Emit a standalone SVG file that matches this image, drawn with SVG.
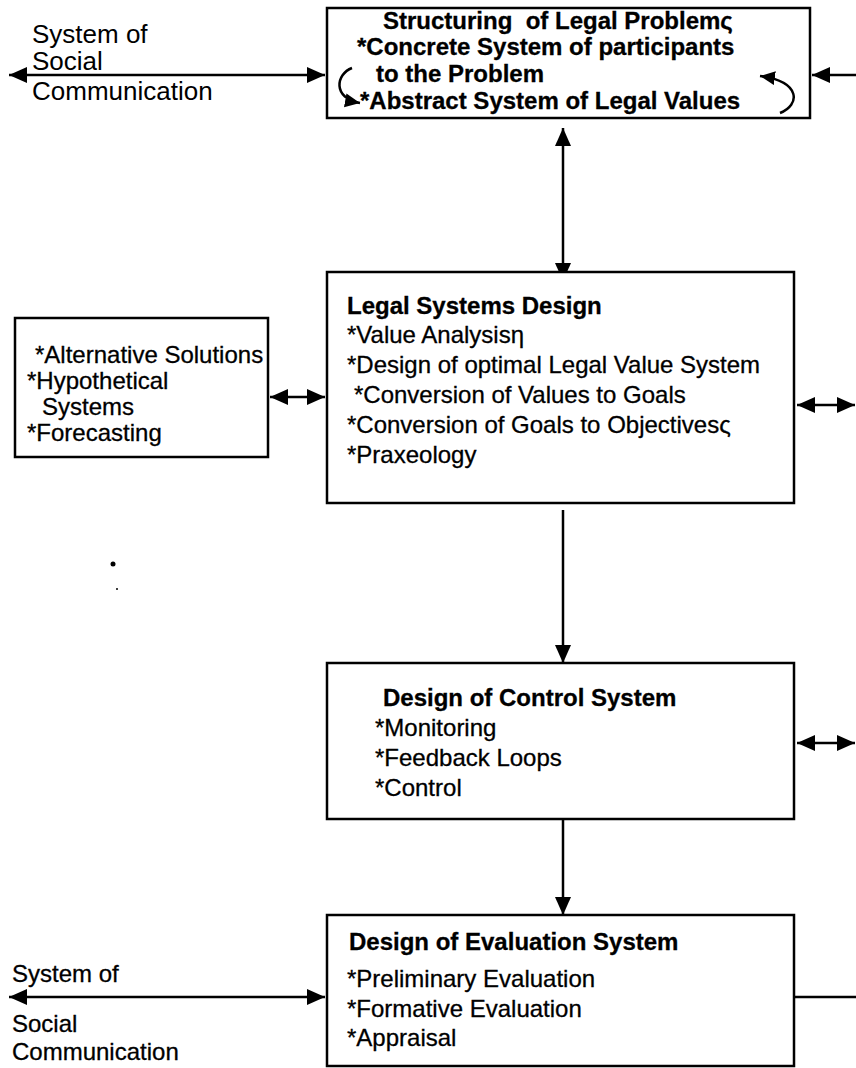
<svg xmlns="http://www.w3.org/2000/svg" width="856" height="1068" viewBox="0 0 856 1068">
  <style>
    .box { fill: #fff; stroke: #000; stroke-width: 2.5; }
    .ln { fill: none; stroke: #000; stroke-width: 2.5; }
    .cv { fill: none; stroke: #000; stroke-width: 2.5; }
    .t { font-family: "Liberation Sans", Arial, sans-serif; font-size: 24px; fill: #000; stroke: #000; stroke-width: 0.3; white-space: pre; }
    .b { font-weight: bold; }
    .lbl { font-size: 26px; stroke-width: 0; }
  </style>
  <defs>
    <marker id="head" markerUnits="userSpaceOnUse" markerWidth="20" markerHeight="18" refX="18" refY="8" orient="auto-start-reverse">
      <path d="M0,0 L18,8 L0,16 Z" fill="#000"/>
    </marker>
    <marker id="small" markerUnits="userSpaceOnUse" markerWidth="16" markerHeight="16" refX="15" refY="7" orient="auto">
      <path d="M0,0 L15,7 L0,14 Z" fill="#000"/>
    </marker>
  </defs>
  <rect width="856" height="1068" fill="#fff"/>

  <!-- connectors -->
  <g id="connectors">
    <path class="ln" d="M9,75 H325" marker-start="url(#head)" marker-end="url(#head)"/>
    <path class="ln" d="M856,75 H812" marker-end="url(#head)"/>
    <path class="ln" d="M563,128 V281" marker-start="url(#head)" marker-end="url(#head)"/>
    <path class="ln" d="M270,397 H325" marker-start="url(#head)" marker-end="url(#head)"/>
    <path class="ln" d="M797,405 H855" marker-start="url(#head)" marker-end="url(#head)"/>
    <path class="ln" d="M563,510 V663" marker-end="url(#head)"/>
    <path class="ln" d="M797,743 H855" marker-start="url(#head)" marker-end="url(#head)"/>
    <path class="ln" d="M563,819 V915" marker-end="url(#head)"/>
    <path class="ln" d="M9,997 H325" marker-start="url(#head)" marker-end="url(#head)"/>
    <path class="ln" d="M794,997 H856"/>
  </g>

  <!-- outside labels -->
  <g id="social-top">
    <text class="t lbl" x="32" y="43">System of</text>
    <text class="t lbl" x="32" y="70">Social</text>
    <text class="t lbl" x="32" y="100">Communication</text>
  </g>
  <g id="social-bottom">
    <text class="t" x="12" y="982">System of</text>
    <text class="t" x="12" y="1032">Social</text>
    <text class="t" x="12" y="1060">Communication</text>
  </g>

  <g id="structuring">
    <rect class="box" x="327" y="8" width="483" height="110"/>
    <text class="t b" x="383" y="29">Structuring  of Legal Problemς</text>
    <text class="t b" x="357" y="55">*Concrete System of participants</text>
    <text class="t b" x="376" y="82">to the Problem</text>
    <text class="t b" x="360" y="109">*Abstract System of Legal Values</text>
    <path class="cv" d="M352,68 C336,74 332,98 360,103" marker-end="url(#small)"/>
    <path class="cv" d="M780,113 C800,105 802,82 760,76" marker-end="url(#small)"/>
  </g>

  <g id="alternatives">
    <rect class="box" x="15" y="318" width="253" height="139"/>
    <text class="t" x="35" y="363">*Alternative Solutions</text>
    <text class="t" x="27" y="389">*Hypothetical</text>
    <text class="t" x="42" y="415">Systems</text>
    <text class="t" x="27" y="441">*Forecasting</text>
  </g>

  <g id="legal-systems-design">
    <rect class="box" x="327" y="272" width="467" height="231"/>
    <text class="t b" x="347" y="314">Legal Systems Design</text>
    <text class="t" x="347" y="343">*Value Analysisη</text>
    <text class="t" x="347" y="373">*Design of optimal Legal Value System</text>
    <text class="t" x="354" y="403">*Conversion of Values to Goals</text>
    <text class="t" x="347" y="433">*Conversion of Goals to Objectivesς</text>
    <text class="t" x="347" y="463">*Praxeology</text>
  </g>

  <g id="control-system">
    <rect class="box" x="327" y="663" width="467" height="156"/>
    <text class="t b" x="383" y="706">Design of Control System</text>
    <text class="t" x="375" y="736">*Monitoring</text>
    <text class="t" x="375" y="766">*Feedback Loops</text>
    <text class="t" x="375" y="796">*Control</text>
  </g>

  <g id="evaluation-system">
    <rect class="box" x="327" y="915" width="467" height="151"/>
    <text class="t b" x="349" y="950">Design of Evaluation System</text>
    <text class="t" x="347" y="987">*Preliminary Evaluation</text>
    <text class="t" x="347" y="1017">*Formative Evaluation</text>
    <text class="t" x="347" y="1046">*Appraisal</text>
  </g>

  <!-- stray marks -->
  <circle cx="113" cy="564" r="2.5" fill="#000"/>
  <circle cx="117" cy="589" r="1" fill="#000"/>
</svg>
